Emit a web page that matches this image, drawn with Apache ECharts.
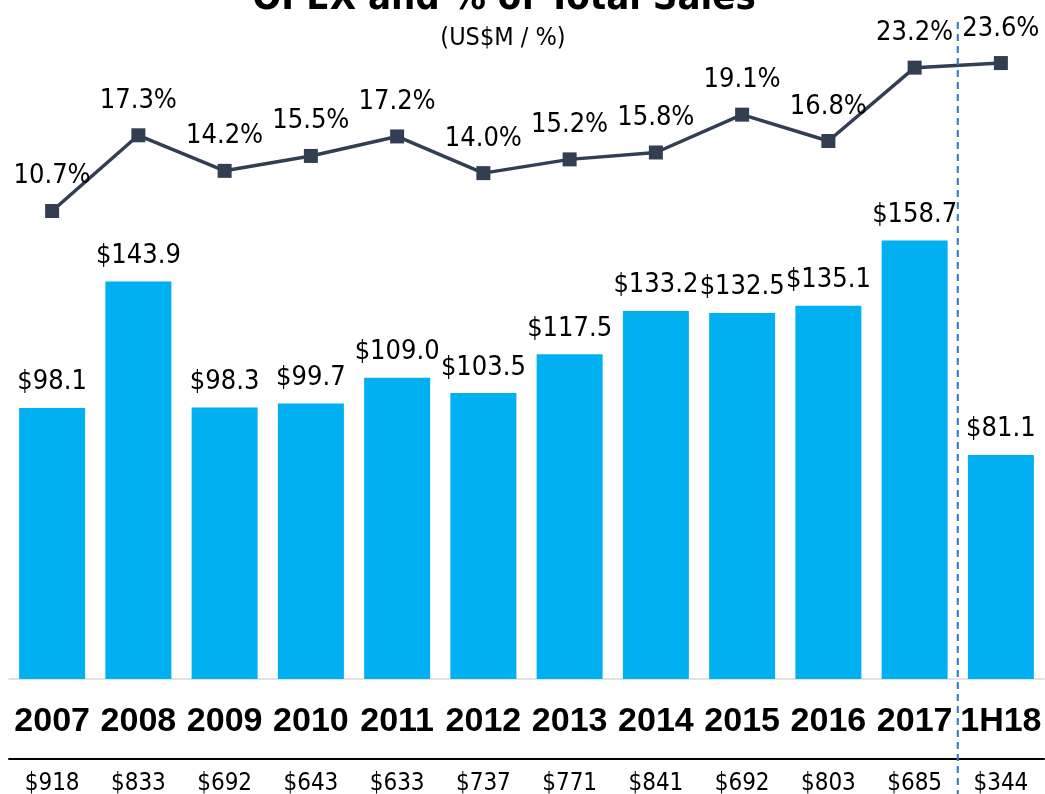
<!DOCTYPE html>
<html>
<head>
<meta charset="utf-8">
<script src="https://cdn.jsdelivr.net/npm/echarts@6/dist/echarts.min.js"></script>
<style>
  html, body { margin: 0; padding: 0; background: #fff; }
  #chart { width: 1045px; height: 794px; }
</style>
</head>
<body>
<div id="chart"></div>
<script>
// Categories and values
const years = ['2007', '2008', '2009', '2010', '2011', '2012', '2013', '2014', '2015', '2016', '2017', '1H18'];
const opex = [98.1, 143.9, 98.3, 99.7, 109.0, 103.5, 117.5, 133.2, 132.5, 135.1, 158.7, 81.1];
const opexPct = [10.7, 17.3, 14.2, 15.5, 17.2, 14.0, 15.2, 15.8, 19.1, 16.8, 23.2, 23.6];
const totalSales = ['$918', '$833', '$692', '$643', '$633', '$737', '$771', '$841', '$692', '$803', '$685', '$344'];

const NARROW = "'Liberation Sans Narrow', 'DejaVu Sans Condensed', 'Roboto', sans-serif";
const BOLD = "'Liberation Sans', Arial, sans-serif";
const LINE_COLOR = '#323e52';

const chart = echarts.init(document.getElementById('chart'), null, { renderer: 'canvas' });

chart.setOption({
  animation: false,
  title: [
    {
      text: 'OPEX and % of Total Sales',
      left: 499,
      textAlign: 'center',
      top: -25,
      textStyle: { fontFamily: NARROW, fontSize: 38, fontWeight: 'bold', color: '#000' }
    },
    {
      text: '(US$M / %)',
      left: 498,
      textAlign: 'center',
      top: 21,
      textStyle: { fontFamily: NARROW, fontSize: 25, fontWeight: 'normal', color: '#000' }
    }
  ],
  grid: [
    { left: 9, right: 1, top: 126.4, bottom: 115, outerBoundsMode: 'none' },
    { left: 9, right: 1, top: 47, bottom: 575, outerBoundsMode: 'none' }
  ],
  xAxis: [
    {
      type: 'category',
      gridIndex: 0,
      data: years,
      axisTick: { show: false },
      axisLine: { lineStyle: { color: '#d9d9d9', width: 1.5 } },
      axisLabel: { interval: 0, fontFamily: BOLD, fontWeight: 'bold', fontSize: 34, color: '#000', margin: 26 }
    },
    {
      type: 'category',
      gridIndex: 0,
      position: 'bottom',
      offset: 80,
      data: totalSales,
      axisTick: { show: false },
      axisLine: { lineStyle: { color: '#000', width: 2 } },
      axisLabel: { interval: 0, fontFamily: NARROW, fontSize: 24, color: '#000', margin: 13 }
    },
    {
      type: 'category',
      gridIndex: 1,
      data: years,
      show: false
    }
  ],
  yAxis: [
    { type: 'value', gridIndex: 0, min: 0, max: 200, show: false },
    { type: 'value', gridIndex: 1, min: 10, max: 25, show: false }
  ],
  series: [
    {
      type: 'bar',
      xAxisIndex: 0,
      yAxisIndex: 0,
      data: opex,
      barWidth: 66,
      itemStyle: { color: '#00b0f0' },
      label: {
        show: true,
        position: 'top',
        distance: 12,
        fontFamily: NARROW,
        fontSize: 27,
        color: '#000',
        formatter: (p) => '$' + p.value.toFixed(1)
      }
    },
    {
      type: 'line',
      xAxisIndex: 2,
      yAxisIndex: 1,
      data: opexPct,
      symbol: 'rect',
      symbolSize: 14,
      lineStyle: { color: LINE_COLOR, width: 3.5 },
      itemStyle: { color: LINE_COLOR },
      label: {
        show: true,
        position: 'top',
        distance: 14,
        fontFamily: NARROW,
        fontSize: 27,
        color: '#000',
        formatter: (p) => p.value.toFixed(1) + '%'
      }
    }
  ]
});

// Dashed separator between full years and the half year
const x17 = chart.convertToPixel({ xAxisIndex: 0 }, '2017');
const x18 = chart.convertToPixel({ xAxisIndex: 0 }, '1H18');
const sepX = (x17 + x18) / 2;
chart.setOption({
  graphic: [{
    type: 'line',
    shape: { x1: sepX, y1: 22, x2: sepX, y2: 794 },
    style: { stroke: '#2f75c8', lineWidth: 2, lineDash: [7, 5] },
    z: 10
  }]
});
</script>
</body>
</html>
